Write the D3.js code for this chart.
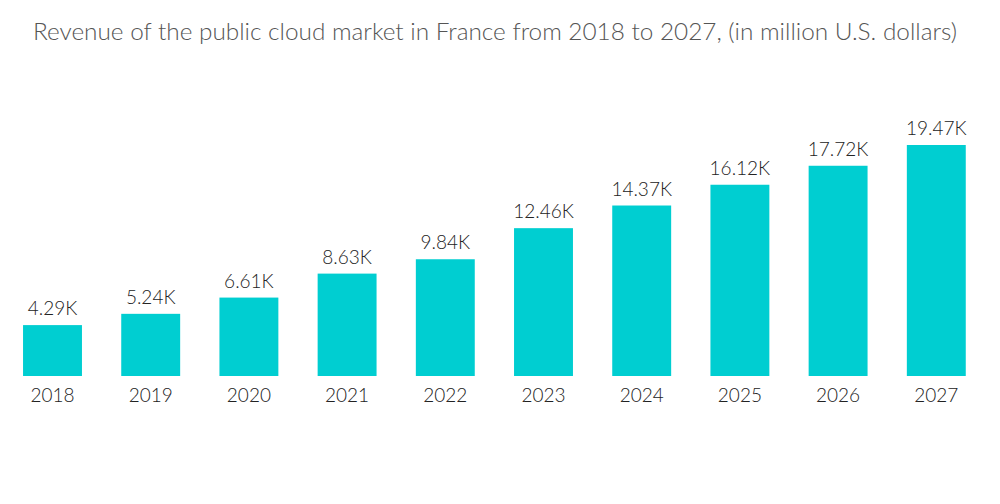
<!DOCTYPE html>
<html><head><meta charset="utf-8">
<script src="https://cdn.jsdelivr.net/npm/d3@7"></script>
<style>body{margin:0;background:#fff;}</style>
</head><body>
<svg id="c" width="1000" height="504"></svg>
<script>
const title = "Revenue of the public cloud market in France from 2018 to 2027, (in million U.S. dollars)";
const years = ["2018","2019","2020","2021","2022","2023","2024","2025","2026","2027"];
const values = [4.29, 5.24, 6.61, 8.63, 9.84, 12.46, 14.37, 16.12, 17.72, 19.47];
const labels = ["4.29K","5.24K","6.61K","8.63K","9.84K","12.46K","14.37K","16.12K","17.72K","19.47K"];

const svg = d3.select("#c");
const font = "Lato, 'Open Sans', sans-serif";
const x = d3.scaleBand().domain(years).range([3.4, 985.4]).paddingInner(0.4).paddingOuter(0.2);
const y = d3.scaleLinear().domain([0, 19.47]).range([376, 145]);

svg.append("text").attr("x", 33).attr("y", 40).attr("font-family", font).attr("font-weight", 300)
  .attr("font-size", 23).attr("fill", "#555").text(title)
  .attr("textLength", 924).attr("lengthAdjust", "spacingAndGlyphs");

svg.selectAll("rect.bar").data(values).enter().append("rect")
  .attr("x", (d,i) => x(years[i])).attr("width", x.bandwidth())
  .attr("y", d => y(d)).attr("height", d => y(0) - y(d))
  .attr("fill", "#00CED1");

svg.selectAll("text.val").data(values).enter().append("text")
  .attr("x", (d,i) => x(years[i]) + x.bandwidth()/2).attr("y", d => y(d) - 10)
  .attr("text-anchor", "middle").attr("font-family", font).attr("font-weight", 300).attr("font-size", 19)
  .attr("fill", "#222").text((d,i) => labels[i]);

const ax = svg.append("g").attr("transform", "translate(0,376)")
  .call(d3.axisBottom(x).tickSize(0).tickPadding(10));
ax.select(".domain").remove();
ax.selectAll("text").attr("font-family", font).attr("font-weight", 300).attr("font-size", 19).attr("fill", "#222").attr("dy", "0.85em");
</script>
</body></html>
